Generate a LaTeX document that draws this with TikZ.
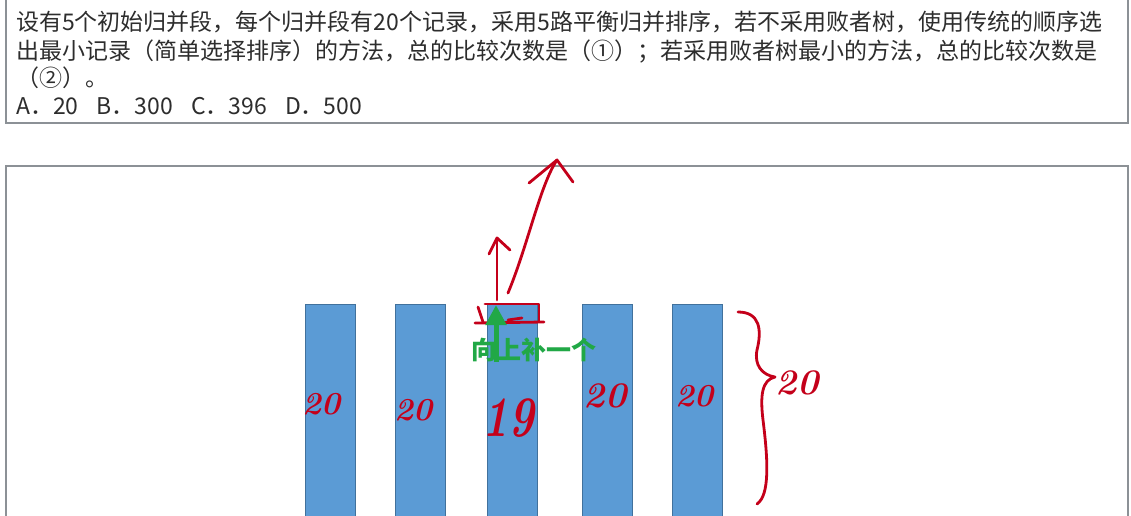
\documentclass[tikz,border=0pt]{standalone}
\usepackage{fontspec}
\newfontfamily\cjk{Noto Sans CJK SC}
\usetikzlibrary{arrows.meta}
\definecolor{qgray}{RGB}{45,45,45}
\definecolor{boxgray}{RGB}{140,145,150}
\definecolor{barfill}{RGB}{91,155,213}
\definecolor{barline}{RGB}{65,113,156}
\definecolor{inkred}{RGB}{196,0,26}
\definecolor{tipgreen}{RGB}{33,168,70}
\tikzset{
  boxline/.style={draw=boxgray, line width=1.5pt},
  qtext/.style={anchor=base west, inner sep=0pt, text=qgray, font=\cjk\fontsize{23}{26}\selectfont},
  bar/.style={draw=barline, fill=barfill, line width=0.8pt, minimum width=50pt, minimum height=240pt, anchor=north, inner sep=0pt},
  ink/.style={draw=inkred, line width=2.8pt, line cap=round, line join=round},
  inknum/.style={text=inkred, inner sep=0pt, font=\bfseries\itshape\fontsize{32}{32}\selectfont},
  tip/.style={text=tipgreen, inner sep=0pt, font=\cjk\bfseries\fontsize{25}{25}\selectfont}
}
\begin{document}
\begin{tikzpicture}[x=1pt,y=-1pt]
\useasboundingbox (0,0) rectangle (1131,516);
\fill[white] (0,0) rectangle (1131,516);
\begin{scope}
\clip (0,0) rectangle (1131,516);
% boxes
\draw[boxline] (6,-10) rectangle (1128,123);
\draw[boxline] (6,166) rectangle (1128,540);
% question text
\node[qtext] (l1) at (16,31) {设有5个初始归并段，每个归并段有20个记录，采用5路平衡归并排序，若不采用败者树，使用传统的顺序选};
\node[qtext] (l2) at (16,60) {出最小记录（简单选择排序）的方法，总的比较次数是（①）；若采用败者树最小的方法，总的比较次数是};
\node[qtext] (l3) at (16,87) {（②）。};
\node[qtext] (l4) at (16,114) {A．20\hspace{18pt}B．300\hspace{18pt}C．396\hspace{18pt}D．500};
% bars
\node[bar] (b1) at (330,304) {};
\node[bar] (b2) at (420.5,304) {};
\node[bar] (b3) at (512,304) {};
\node[bar] (b4) at (607.5,304) {};
\node[bar] (b5) at (697.5,304) {};
% red handwritten counts
\node[inknum] (n1) at (321,404) {20};
\node[inknum] (n2) at (413,410) {20};
\node[inknum, font=\bfseries\itshape\fontsize{44}{44}\selectfont, yscale=1.3] (n3) at (508,418) {19};
\node[inknum, font=\bfseries\itshape\fontsize{36}{36}\selectfont] (n4) at (605,396) {20};
\node[inknum] (n5) at (694,396) {20};
\node[inknum, font=\bfseries\itshape\fontsize{36}{36}\selectfont] (n6) at (797,383) {20};
% brace
\draw[ink] (738,312) .. controls (760,312) and (762,330) .. (757,350)
  .. controls (754,365) and (762,375) .. (775,377)
  .. controls (762,380) and (760,395) .. (763,420)
  .. controls (768,460) and (770,495) .. (757,504);
% marks on top of bar 3
\draw[ink] (485,304) -- (539,304) -- (539,321);
\draw[ink] (475,323) -- (544,322);
\draw[ink] (478,307) -- (483,322);
\draw[ink] (508,320) -- (522,318);
% red arrows
\coordinate (a1s) at (497,300);
\coordinate (a1e) at (497,238);
\draw[ink] (a1s) -- (a1e);
\draw[ink] (489,254) -- (a1e) -- (510,250);
\coordinate (a2s) at (508,293);
\coordinate (a2e) at (557,160);
\draw[ink] (a2s) .. controls (528,245) and (540,185) .. (a2e);
\draw[ink] (529,183) -- (a2e) -- (573,182);
% green note
\coordinate (g1) at (496,305);
\coordinate (g0) at (496,362);
\draw[draw=tipgreen, line width=5pt, -{Triangle[length=20pt, width=20pt]}] (g0) -- (g1);
\node[tip] (note) at (534,350) {向上补一个};
\end{scope}
\end{tikzpicture}
\end{document}
